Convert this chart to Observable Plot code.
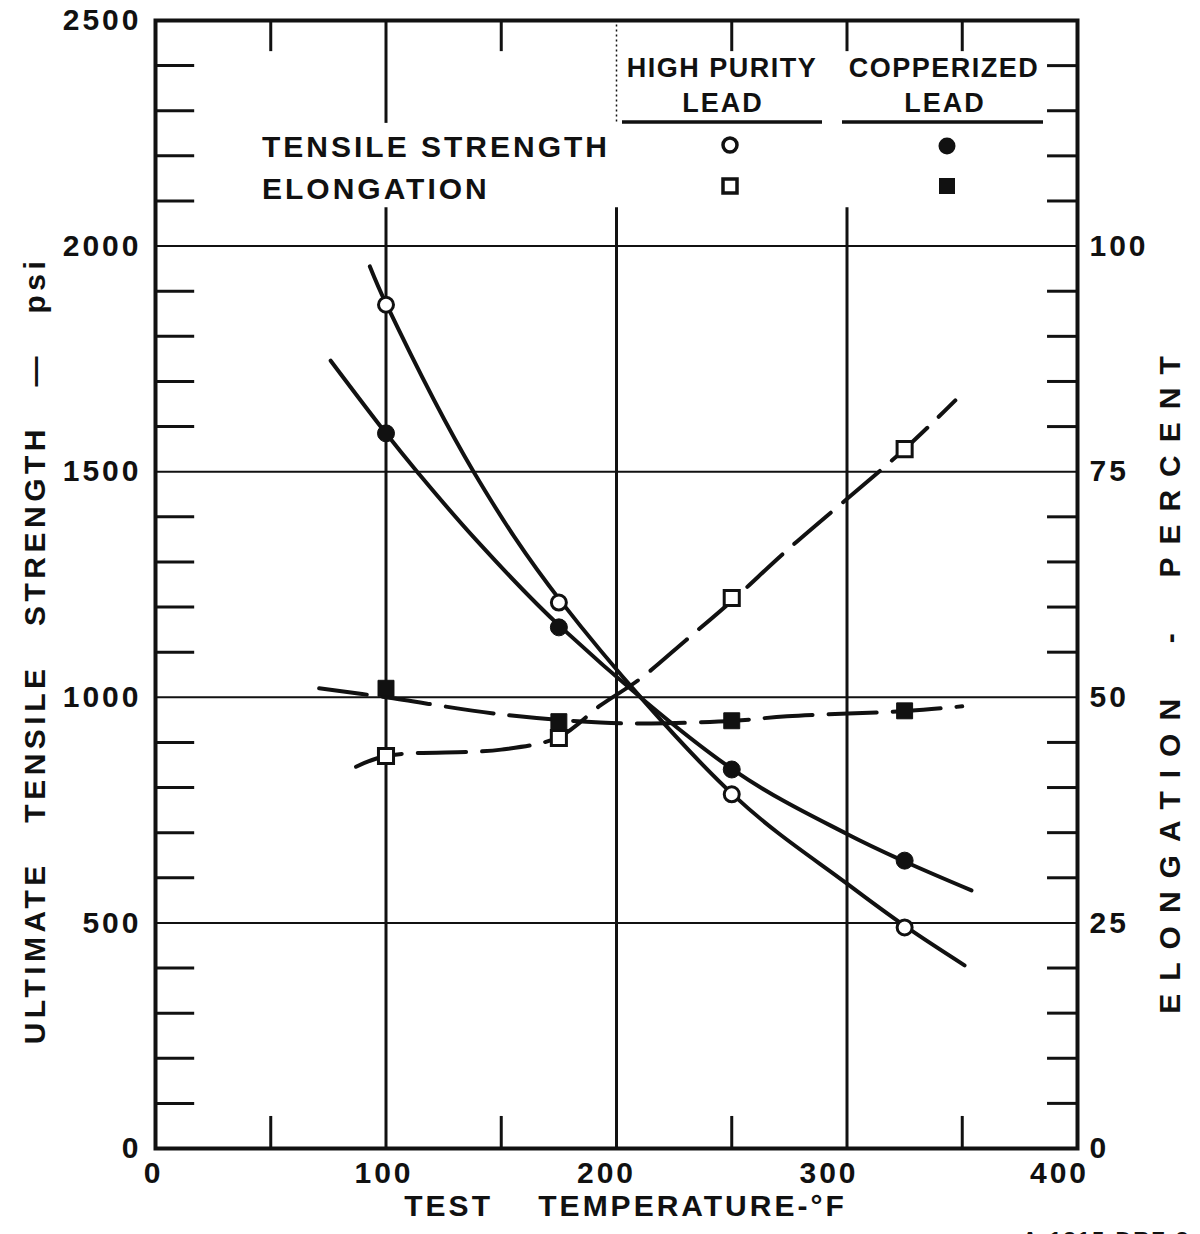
<!DOCTYPE html>
<html><head><meta charset="utf-8">
<script src="https://cdn.jsdelivr.net/npm/d3@7"></script>
<script src="https://cdn.jsdelivr.net/npm/@observablehq/plot@0.6"></script>
<style>
html,body{margin:0;padding:0;background:#fff;overflow:hidden}
#wrap{position:relative;width:1200px;height:1234px;overflow:hidden;background:#fff}
#wrap svg{position:absolute;left:0;top:0}
</style></head><body><div id="wrap"></div>
<script>
// ---- data ----
const testTemps   = [100, 175, 250, 325];            // °F
const hpStrength  = [1870, 1210, 785, 490];          // psi, high purity lead (open circles)
const cuStrength  = [1585, 1155, 840, 638];          // psi, copperized lead (filled circles)
const hpElong     = [43.5, 45.5, 61.0, 77.5];        // %, high purity lead (open squares)
const cuElong     = [51.0, 47.3, 47.4, 48.5];        // %, copperized lead (filled squares)

// faired curves, points
const hpStrengthCurveT = [93, 100, 138, 176, 251, 300, 326, 351];
const hpStrengthCurveV = [1955, 1873, 1500, 1212, 782, 587, 490, 406];
const cuStrengthCurveT = [76, 100, 113.5, 138, 176, 251, 300, 325, 354];
const cuStrengthCurveV = [1746, 1585, 1500, 1355, 1155, 838, 697, 636, 572];
const hpElongCurveT = [87, 100, 150, 175, 193, 210, 230, 251, 274, 325, 347];
const hpElongCurveV = [42.3, 43.5, 44.2, 45.6, 49.1, 52.0, 56.3, 60.9, 66.3, 77.5, 82.9];
const cuElongCurveT = [71, 100, 150, 193, 215, 251, 274, 327, 350];
const cuElongCurveV = [51.0, 50.0, 48.1, 47.2, 47.1, 47.4, 47.9, 48.5, 49.0];

// axes
const xTicksA = [0, 100];
const xTicksB = [200];
const xTicksC = [300, 400];
const strengthTicks = [0, 500, 1000, 1500, 2000, 2500];
const elongTicks = [0, 25, 50, 75, 100];
const gridStrength = [500, 1000, 1500, 2000];
const gridTemps = [100, 200, 300];
const minorStrength = [100,200,300,400,600,700,800,900,1100,1200,1300,1400,1600,1700,1800,1900,2100,2200,2300,2400];
const minorTemps = [50, 150, 250, 350];
const topTicks = [50, 150, 250, 300, 350];
const PSI_PER_PERCENT = 20; // 100 % elongation aligns with 2000 psi

const NB = "\u00A0\u00A0\u00A0";
const xTitle = "TEST\u00A0\u00A0\u00A0\u00A0TEMPERATURE-°F";
const yTitle = "ULTIMATE" + NB + "TENSILE" + NB + "STRENGTH" + NB + "—" + NB + "psi";
const y2Title = "ELONGATION\u00A0\u00A0-\u00A0\u00A0PERCENT";
const legendHeaders = [["HIGH PURITY", "LEAD"], ["COPPERIZED", "LEAD"]];
const legendRows = ["TENSILE STRENGTH", "ELONGATION"];
const drawingNo = "A-1315-DRF-3";

const series = (T, V) => T.map((t, i) => ({t, v: V[i]}));
const points = (V) => testTemps.map((t, i) => ({t, v: V[i]}));
const ink = "#111";
const ff = '"Liberation Sans", Arial, sans-serif';
const fmt = d3.format("d");
const dash = "48,16";

const chart = Plot.plot({
  width: 1200, height: 1234,
  marginLeft: 155, marginRight: 123, marginTop: 20, marginBottom: 86,
  x: {domain: [0, 400]},
  y: {domain: [0, 2500]},
  style: {fontFamily: ff, fontWeight: "bold", fontSize: "30px", color: ink, background: "#fff", letterSpacing: "3px", overflow: "visible"},
  marks: [
    Plot.ruleY(gridStrength, {stroke: ink, strokeWidth: 2}),
    Plot.ruleX(gridTemps, {y1: 0, y2: 2085, stroke: ink, strokeWidth: 3}),
    Plot.ruleX([100], {y1: 2272, y2: 2500, stroke: ink, strokeWidth: 3}),
    Plot.ruleX([200], {y1: 2275, y2: 2500, stroke: ink, strokeWidth: 1.5, strokeDasharray: "2,3"}),
    Plot.ruleY(minorStrength, {x1: 0, x2: 17, stroke: ink, strokeWidth: 3}),
    Plot.ruleY(minorStrength, {x1: 387, x2: 400, stroke: ink, strokeWidth: 3}),
    Plot.ruleX(topTicks, {y1: 2431, y2: 2500, stroke: ink, strokeWidth: 3}),
    Plot.ruleX(minorTemps, {y1: 0, y2: 71, stroke: ink, strokeWidth: 3}),

    Plot.line(series(hpElongCurveT, hpElongCurveV), {x: "t", y: d => d.v * PSI_PER_PERCENT, curve: "catmull-rom", stroke: ink, strokeWidth: 4, strokeDasharray: dash}),
    Plot.line(series(cuElongCurveT, cuElongCurveV), {x: "t", y: d => d.v * PSI_PER_PERCENT, curve: "catmull-rom", stroke: ink, strokeWidth: 4, strokeDasharray: dash}),
    Plot.line(series(hpStrengthCurveT, hpStrengthCurveV), {x: "t", y: "v", curve: "catmull-rom", stroke: ink, strokeWidth: 4}),
    Plot.line(series(cuStrengthCurveT, cuStrengthCurveV), {x: "t", y: "v", curve: "catmull-rom", stroke: ink, strokeWidth: 4}),

    Plot.dot(points(hpElong), {x: "t", y: d => d.v * PSI_PER_PERCENT, symbol: "square", r: 8.5, fill: "#fff", stroke: ink, strokeWidth: 3}),
    Plot.dot(points(cuElong), {x: "t", y: d => d.v * PSI_PER_PERCENT, symbol: "square", r: 9, fill: ink, stroke: ink, strokeWidth: 1}),
    Plot.dot(points(hpStrength), {x: "t", y: "v", symbol: "circle", r: 7.5, fill: "#fff", stroke: ink, strokeWidth: 3}),
    Plot.dot(points(cuStrength), {x: "t", y: "v", symbol: "circle", r: 8.5, fill: ink, stroke: ink, strokeWidth: 1}),

    Plot.frame({stroke: ink, strokeWidth: 4}),

    Plot.axisY(strengthTicks, {anchor: "left", tickSize: 0, tickPadding: 14, tickFormat: fmt, label: null, fontSize: 30}),
    Plot.axisY(elongTicks.map(e => e * PSI_PER_PERCENT), {anchor: "right", tickSize: 0, tickPadding: 12, tickFormat: d => fmt(d / PSI_PER_PERCENT), label: null, fontSize: 30}),
    Plot.axisX(xTicksA, {anchor: "bottom", tickSize: 0, tickPadding: 13, tickFormat: fmt, label: null, fontSize: 30, dx: -2}),
    Plot.axisX(xTicksB, {anchor: "bottom", tickSize: 0, tickPadding: 13, tickFormat: fmt, label: null, fontSize: 30, dx: -10}),
    Plot.axisX(xTicksC, {anchor: "bottom", tickSize: 0, tickPadding: 13, tickFormat: fmt, label: null, fontSize: 30, dx: -18}),

    Plot.text([yTitle], {frameAnchor: "left", textAnchor: "middle", rotate: -90, dx: -120, dy: 66, fontSize: 30}),
    Plot.text([y2Title], {frameAnchor: "right", textAnchor: "middle", rotate: -90, dx: 93, dy: 94, fontSize: 30}),
    Plot.text([xTitle], {frameAnchor: "bottom", textAnchor: "middle", dx: 9, dy: 67, fontSize: 30})
  ]
});

d3.select(chart).selectAll("text").filter(function () { return this.textContent === yTitle; }).style("letter-spacing", "4.5px");
d3.select(chart).selectAll("text").filter(function () { return this.textContent === y2Title; }).style("letter-spacing", "13px");

const wrap = document.getElementById("wrap");
wrap.appendChild(chart);

// ---- legend table (drawn as an overlay) ----
const lg = d3.create("svg").attr("width", 1200).attr("height", 1234)
  .style("font-family", ff).style("font-weight", "bold").attr("fill", ink);
const colX = [722, 944];
legendHeaders.forEach((h, i) => {
  lg.append("text").attr("x", colX[i]).attr("y", 77).attr("text-anchor", "middle")
    .attr("font-size", 27).style("letter-spacing", "1.5px").text(h[0]);
  lg.append("text").attr("x", colX[i] + 1).attr("y", 112).attr("text-anchor", "middle")
    .attr("font-size", 27).style("letter-spacing", "2px").text(h[1]);
});
lg.append("line").attr("x1", 622).attr("x2", 822).attr("y1", 122).attr("y2", 122).attr("stroke", ink).attr("stroke-width", 3.5);
lg.append("line").attr("x1", 842).attr("x2", 1043).attr("y1", 122).attr("y2", 122).attr("stroke", ink).attr("stroke-width", 3.5);
legendRows.forEach((r, i) => {
  lg.append("text").attr("x", 262).attr("y", [157, 199][i]).attr("font-size", 30)
    .style("letter-spacing", "3px").text(r);
});
lg.append("circle").attr("cx", 730).attr("cy", 145).attr("r", 7).attr("fill", "#fff").attr("stroke", ink).attr("stroke-width", 3.5);
lg.append("circle").attr("cx", 947).attr("cy", 146).attr("r", 8.5).attr("fill", ink);
lg.append("rect").attr("x", 723).attr("y", 179).attr("width", 14).attr("height", 14).attr("fill", "#fff").attr("stroke", ink).attr("stroke-width", 3.5);
lg.append("rect").attr("x", 939).attr("y", 178).attr("width", 16).attr("height", 16).attr("fill", ink);
lg.append("text").attr("x", 1022).attr("y", 1247).attr("font-size", 22).style("letter-spacing", "2px").text(drawingNo);
wrap.appendChild(lg.node());
</script></body></html>
